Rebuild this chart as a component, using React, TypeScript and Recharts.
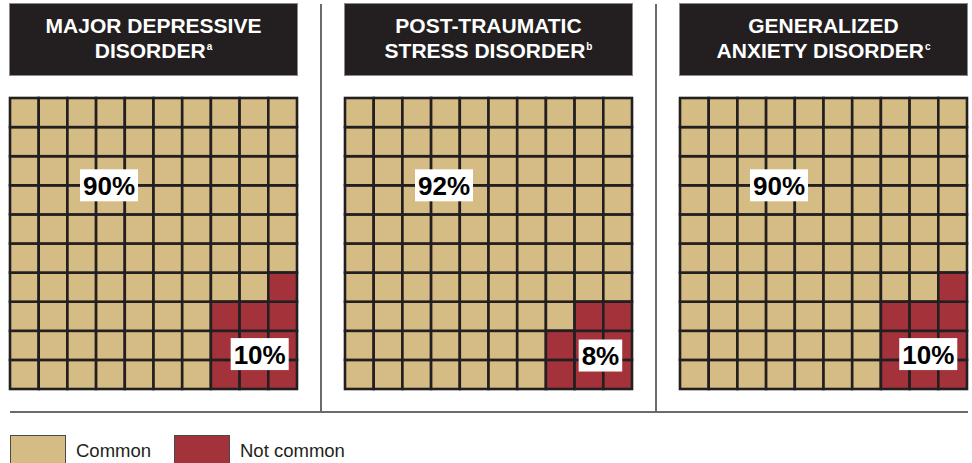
import React from "react";
import { ScatterChart, Scatter, XAxis, YAxis } from "recharts";

// values
const titles = [
  ["MAJOR DEPRESSIVE", "DISORDER"],
  ["POST-TRAUMATIC", "STRESS DISORDER"],
  ["GENERALIZED", "ANXIETY DISORDER"],
];
const notes = ["a", "b", "c"];
const commonPct = [90, 92, 90];
const notCommonPct = [10, 8, 10];
const legendLabels = ["Common", "Not common"];

const TAN = "#d5bc84";
const RED = "#a3323b";
const DARK = "#231f20";
const FONT = "'Liberation Sans', Arial, Helvetica, sans-serif";

const PANEL_X = [10, 345, 680];
const GRID_W = 287;
const GRID_H = 291;
const CELL_W = GRID_W / 10;
const CELL_H = GRID_H / 10;
const LABEL_FONT = 26;

// label anchors in grid units (layout only)
const BIG_LABEL = { x: 3.45, y: 7.0 };
const SMALL_LABEL = [
  { x: 8.7, y: 1.2 },
  { x: 8.9, y: 1.15 },
  { x: 8.65, y: 1.2 },
];

// red cells fill the 3 right columns from the bottom up, right to left
const buildCells = (redCount: number) => {
  const red = new Set<string>();
  for (let k = 0; k < redCount; k++) {
    const rowFromBottom = Math.floor(k / 3);
    const col = 9 - (k % 3);
    red.add(`${col}-${rowFromBottom}`);
  }
  const common: { x: number; y: number }[] = [];
  const notCommon: { x: number; y: number }[] = [];
  for (let c = 0; c < 10; c++) {
    for (let r = 0; r < 10; r++) {
      const pt = { x: c + 0.5, y: r + 0.5 };
      if (red.has(`${c}-${r}`)) notCommon.push(pt);
      else common.push(pt);
    }
  }
  return { common, notCommon };
};

const cellShape = (fill: string) => (props: any) => {
  const { cx, cy } = props;
  return (
    <rect
      x={cx - CELL_W / 2}
      y={cy - CELL_H / 2}
      width={CELL_W}
      height={CELL_H}
      fill={fill}
      stroke={DARK}
      strokeWidth={2.6}
    />
  );
};

// rough Arial bold widths
const textWidth = (s: string) =>
  s.split("").reduce((w, ch) => w + (ch === "%" ? 0.889 : 0.556) * LABEL_FONT, 0);

const labelShape = (props: any) => {
  const { cx, cy, payload } = props;
  const text: string = payload.text;
  const w = textWidth(text) + 6;
  const h = 32;
  return (
    <g>
      <rect x={cx - w / 2} y={cy - h / 2} width={w} height={h} fill="#ffffff" />
      <text
        x={cx}
        y={cy + 9.5}
        textAnchor="middle"
        fontFamily={FONT}
        fontWeight="bold"
        fontSize={LABEL_FONT}
        fill="#000"
      >
        {text}
      </text>
    </g>
  );
};

const Panel = ({ i }: { i: number }) => {
  const { common, notCommon } = buildCells(notCommonPct[i]);
  const labels = [
    { ...BIG_LABEL, text: `${commonPct[i]}%` },
    { ...SMALL_LABEL[i], text: `${notCommonPct[i]}%` },
  ];
  return (
    <>
      <div
        style={{
          position: "absolute",
          left: PANEL_X[i],
          top: 4,
          width: GRID_W,
          height: 71,
          background: DARK,
          color: "#fff",
          fontFamily: FONT,
          fontWeight: "bold",
          fontSize: 21,
          lineHeight: "25px",
          textAlign: "center",
          display: "flex",
          flexDirection: "column",
          justifyContent: "center",
          boxShadow: "0 0 0 1px #8a8a8a",
        }}
      >
        <div>{titles[i][0]}</div>
        <div>
          {titles[i][1]}
          <span style={{ fontSize: 10, position: "relative", top: -8, marginLeft: 1 }}>{notes[i]}</span>
        </div>
      </div>
      <div style={{ position: "absolute", left: PANEL_X[i] - 2, top: 96 }}>
        <ScatterChart width={GRID_W + 4} height={GRID_H + 4} margin={{ top: 2, right: 2, bottom: 2, left: 2 }}>
          <XAxis type="number" dataKey="x" domain={[0, 10]} hide />
          <YAxis type="number" dataKey="y" domain={[0, 10]} hide />
          <Scatter data={common} shape={cellShape(TAN)} isAnimationActive={false} />
          <Scatter data={notCommon} shape={cellShape(RED)} isAnimationActive={false} />
          <Scatter data={labels} shape={labelShape} isAnimationActive={false} />
        </ScatterChart>
      </div>
    </>
  );
};

export default function App() {
  const swatches = [TAN, RED];
  return (
    <div
      style={{
        position: "absolute",
        left: 0,
        top: 0,
        width: 972,
        height: 463,
        overflow: "hidden",
        background: "#fff",
        fontFamily: FONT,
      }}
    >
      {[0, 1, 2].map((i) => (
        <Panel key={i} i={i} />
      ))}
      {/* separators */}
      <div style={{ position: "absolute", left: 320, top: 4, width: 1.5, height: 408, background: "#6b6b6b" }} />
      <div style={{ position: "absolute", left: 655, top: 4, width: 1.5, height: 408, background: "#6b6b6b" }} />
      <div style={{ position: "absolute", left: 10, top: 411, width: 958, height: 1.5, background: "#6b6b6b" }} />
      {/* legend */}
      {legendLabels.map((l, k) => (
        <div
          key={l}
          style={{ position: "absolute", left: k === 0 ? 10 : 174, top: 435, display: "flex", alignItems: "center" }}
        >
          <div
            style={{
              width: 54,
              height: 30,
              background: swatches[k],
              border: "1.5px solid #4a4a4a",
            }}
          />
          <span style={{ marginLeft: 10, fontSize: 18.5, color: DARK }}>{l}</span>
        </div>
      ))}
    </div>
  );
}
